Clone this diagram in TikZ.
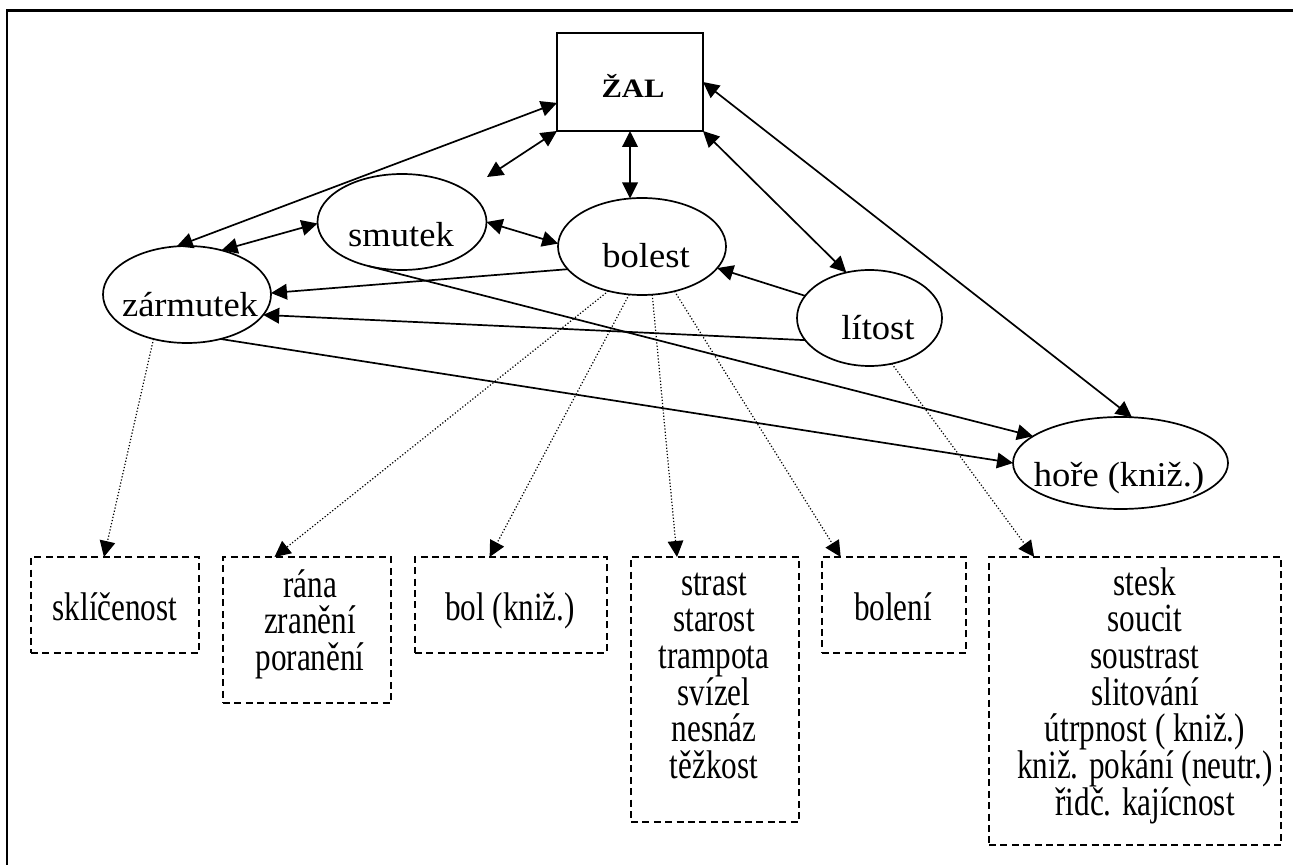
\documentclass[tikz,border=0pt]{standalone}
\usepackage{fontspec}
\setmainfont{Liberation Serif}
\newfontfamily\ellfont[FakeStretch=1.05]{Liberation Serif}
\newfontfamily\boxfont[FakeStretch=0.78]{Liberation Serif}
\newfontfamily\zalfont[FakeStretch=1.15]{Liberation Serif}
\usetikzlibrary{arrows.meta,shapes.geometric}
\newcommand{\stacklines}[1]{\vtop{\baselineskip=18.35pt\lineskiplimit=-30pt\lineskip=0pt\halign{\hfil##\hfil\cr#1\crcr}}}
\tikzset{
  ell/.style={draw, ellipse, inner sep=0pt, outer sep=0pt, line width=0.85pt},
  dbox/.style={draw, rectangle, inner sep=0pt, outer sep=0pt, line width=0.95pt, dash pattern=on 3.5pt off 2.2pt},
  lab/.style={inner sep=0pt, anchor=base, font=\ellfont\fontsize{17.4pt}{20pt}\selectfont},
  blab/.style={inner sep=0pt, anchor=base, font=\boxfont\fontsize{20pt}{18.35pt}\selectfont},
  link/.style={line width=0.85pt, -{Triangle[length=8pt,width=7.8pt]}},
  bilink/.style={line width=0.85pt, {Triangle[length=8pt,width=7.8pt]}-{Triangle[length=8pt,width=7.8pt]}},
  dlink/.style={line width=0.6pt, dash pattern=on 0.6pt off 1pt, -{Triangle[length=8pt,width=7.8pt]}}
}
\begin{document}
\begin{tikzpicture}[x=0.5pt,y=-0.5pt]
\fill[white] (0,0) rectangle (1293,865);
\useasboundingbox (0,0) rectangle (1293,865);
% outer frame (only left and top edges visible)
\draw[line width=1.2pt] (7,900) -- (7,10.5) -- (1320,10.5);

% main box
\node[draw, rectangle, line width=0.85pt, inner sep=0pt, outer sep=0pt, minimum width=73pt, minimum height=49pt] (zal) at (630,82) {};
\node[inner sep=0pt, anchor=base, font=\zalfont\bfseries\fontsize{13.3pt}{15pt}\selectfont] (zalt) at (633,98) {ŽAL};

% ellipses
\node[ell, minimum width=84.5pt, minimum height=48pt] (smutek) at (402,222) {};
\node[ell, minimum width=84pt, minimum height=48.5pt] (zarm) at (187,294.5) {};
\node[ell, minimum width=84pt, minimum height=48.5pt] (bolest) at (642,246.5) {};
\node[ell, minimum width=72.5pt, minimum height=48pt] (litost) at (869.5,318) {};
\node[ell, minimum width=107.5pt, minimum height=46pt] (hore) at (1120.5,463) {};
\node[lab] (smutekt) at (401,247) {smutek};
\node[lab] (zarmt) at (190,317) {zármutek};
\node[lab] (bolestt) at (646,268) {bolest};
\node[lab] (litostt) at (878,340) {lítost};
\node[lab] (horet) at (1119,486) {hoře (kniž.)};

% dashed boxes
\node[dbox, minimum width=84pt, minimum height=48pt] (b1) at (115,605) {};
\node[dbox, minimum width=84pt, minimum height=73pt] (b2) at (307,630) {};
\node[dbox, minimum width=96pt, minimum height=48pt] (b3) at (511,605) {};
\node[dbox, minimum width=84pt, minimum height=132.5pt] (b4) at (715,689.5) {};
\node[dbox, minimum width=72pt, minimum height=48pt] (b5) at (894,605) {};
\node[dbox, minimum width=146pt, minimum height=144pt] (b6) at (1135,701) {};
\node[blab] (b1t) at (115,620) {sklíčenost};
\node[blab] (b2t) at (310,597) {\stacklines{rána\cr zranění\cr poranění}};
\node[blab] (b3t) at (510,620) {bol (kniž.)};
\node[blab] (b4t) at (714,595) {\stacklines{strast\cr starost\cr trampota\cr svízel\cr nesnáz\cr těžkost}};
\node[blab] (b5t) at (893,620) {bolení};
\node[blab] (b6t) at (1145,595) {\stacklines{stesk\cr soucit\cr soustrast\cr slitování\cr útrpnost ( kniž.)\cr kniž. pokání (neutr.)\cr řidč. kajícnost}};

% solid connectors
\coordinate (free) at (487,177);
\draw[bilink] (zal.196) -- (zarm.102);
\draw[bilink] (zal.south west) -- (free);
\draw[bilink] (zal.south) -- (bolest.104);
\draw[bilink] (zal.south east) -- (litost.117);
\draw[bilink] (zal.east) -- (hore.76);
\draw[bilink] (zarm.52) -- (smutek.181);
\draw[bilink] (smutek.east) -- (bolest.178);
\draw[link] (bolest.197) -- (zarm.1);
\draw[link] (litost.199) -- (zarm.345);
\draw[link] (litost.161) -- (bolest.344);
\draw[link] (smutek.233) -- (hore.163);
\draw[link] (zarm.307) -- (hore.180);

% dotted connectors
\draw[dlink] (zarm.233) -- (b1.103);
\draw[dlink] (bolest.233) -- (b2.114);
\draw[dlink] (bolest.255) -- (b3.114);
\draw[dlink] (bolest.282) -- (b4.106);
\draw[dlink] (bolest.306) -- (b5.138);
\draw[dlink] (litost.296) -- (b6.125);
\end{tikzpicture}
\end{document}
